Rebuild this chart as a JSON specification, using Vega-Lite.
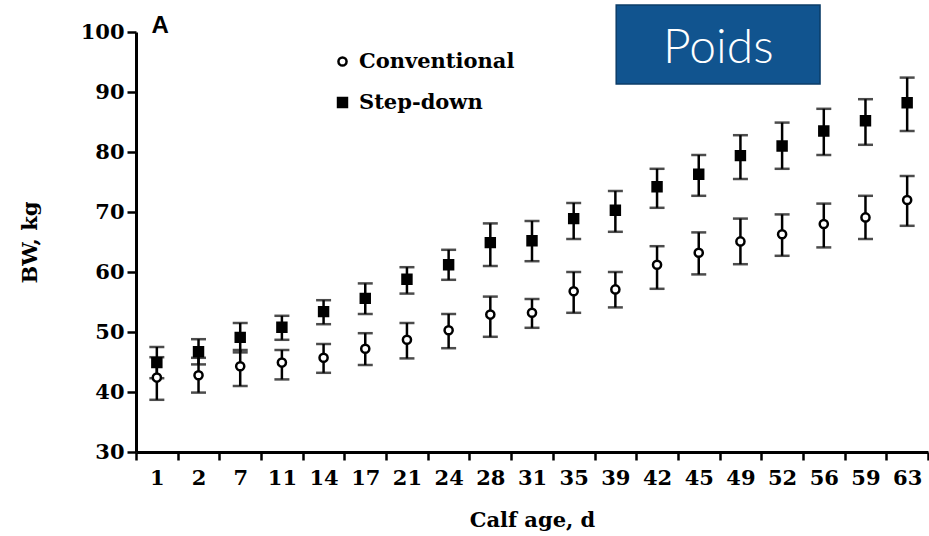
{
  "$schema": "https://vega.github.io/schema/vega-lite/v6.json",
  "width": 792,
  "height": 420,
  "autosize": {"type": "none"},
  "padding": {"left": 136, "top": 32, "right": 1, "bottom": 84},
  "background": "white",
  "config": {
    "view": {"stroke": null},
    "font": "DejaVu Serif",
    "axis": {
      "domainColor": "black",
      "domainWidth": 3,
      "tickColor": "black",
      "tickWidth": 2.5,
      "grid": false,
      "labelFont": "DejaVu Serif",
      "labelFontWeight": "bold",
      "labelFontSize": 21,
      "labelColor": "black",
      "titleFont": "DejaVu Serif",
      "titleFontWeight": "bold",
      "titleFontSize": 21,
      "titleColor": "black"
    }
  },
  "datasets": {
    "bw": [
      {"day": "1", "series": "Step-down", "value": 44.9, "lo": 42.3, "hi": 47.5},
      {"day": "2", "series": "Step-down", "value": 46.7, "lo": 44.6, "hi": 48.8},
      {"day": "7", "series": "Step-down", "value": 49.1, "lo": 46.6, "hi": 51.5},
      {"day": "11", "series": "Step-down", "value": 50.8, "lo": 48.7, "hi": 52.7},
      {"day": "14", "series": "Step-down", "value": 53.4, "lo": 51.3, "hi": 55.3},
      {"day": "17", "series": "Step-down", "value": 55.6, "lo": 53.0, "hi": 58.1},
      {"day": "21", "series": "Step-down", "value": 58.8, "lo": 56.4, "hi": 60.8},
      {"day": "24", "series": "Step-down", "value": 61.2, "lo": 58.7, "hi": 63.7},
      {"day": "28", "series": "Step-down", "value": 64.9, "lo": 61.0, "hi": 68.1},
      {"day": "31", "series": "Step-down", "value": 65.2, "lo": 61.8, "hi": 68.5},
      {"day": "35", "series": "Step-down", "value": 68.9, "lo": 65.5, "hi": 71.5},
      {"day": "39", "series": "Step-down", "value": 70.3, "lo": 66.7, "hi": 73.5},
      {"day": "42", "series": "Step-down", "value": 74.2, "lo": 70.7, "hi": 77.2},
      {"day": "45", "series": "Step-down", "value": 76.3, "lo": 72.7, "hi": 79.5},
      {"day": "49", "series": "Step-down", "value": 79.4, "lo": 75.5, "hi": 82.8},
      {"day": "52", "series": "Step-down", "value": 81.0, "lo": 77.2, "hi": 84.9},
      {"day": "56", "series": "Step-down", "value": 83.5, "lo": 79.5, "hi": 87.2},
      {"day": "59", "series": "Step-down", "value": 85.2, "lo": 81.2, "hi": 88.8},
      {"day": "63", "series": "Step-down", "value": 88.2, "lo": 83.5, "hi": 92.4},
      {"day": "1", "series": "Conventional", "value": 42.4, "lo": 38.7, "hi": 45.8},
      {"day": "2", "series": "Conventional", "value": 42.8, "lo": 39.9, "hi": 45.7},
      {"day": "7", "series": "Conventional", "value": 44.3, "lo": 41.0, "hi": 47.0},
      {"day": "11", "series": "Conventional", "value": 44.9, "lo": 42.1, "hi": 47.0},
      {"day": "14", "series": "Conventional", "value": 45.7, "lo": 43.2, "hi": 48.0},
      {"day": "17", "series": "Conventional", "value": 47.2, "lo": 44.5, "hi": 49.8},
      {"day": "21", "series": "Conventional", "value": 48.7, "lo": 45.6, "hi": 51.5},
      {"day": "24", "series": "Conventional", "value": 50.3, "lo": 47.3, "hi": 53.0},
      {"day": "28", "series": "Conventional", "value": 52.9, "lo": 49.2, "hi": 55.9},
      {"day": "31", "series": "Conventional", "value": 53.2, "lo": 50.7, "hi": 55.5},
      {"day": "35", "series": "Conventional", "value": 56.8, "lo": 53.2, "hi": 60.0},
      {"day": "39", "series": "Conventional", "value": 57.1, "lo": 54.1, "hi": 60.0},
      {"day": "42", "series": "Conventional", "value": 61.2, "lo": 57.2, "hi": 64.3},
      {"day": "45", "series": "Conventional", "value": 63.2, "lo": 59.6, "hi": 66.6},
      {"day": "49", "series": "Conventional", "value": 65.1, "lo": 61.3, "hi": 68.9},
      {"day": "52", "series": "Conventional", "value": 66.3, "lo": 62.7, "hi": 69.6},
      {"day": "56", "series": "Conventional", "value": 68.0, "lo": 64.1, "hi": 71.4},
      {"day": "59", "series": "Conventional", "value": 69.1, "lo": 65.5, "hi": 72.7},
      {"day": "63", "series": "Conventional", "value": 72.0, "lo": 67.7, "hi": 76.0}
    ],
    "notes": [
      {"kind": "box", "label": "Poids", "x1": 11.52, "x2": 16.41, "y1": 104.5, "y2": 91.33, "tx": 13.97, "ty": 94.8},
      {"kind": "panel", "label": "A", "tx": 0.58, "ty": 100}
    ]
  },
  "layer": [
    {
      "data": {"name": "bw"},
      "encoding": {
        "x": {
          "field": "day",
          "type": "ordinal",
          "sort": null,
          "scale": {"paddingInner": 0, "paddingOuter": 0},
          "axis": {
            "title": "Calf age, d",
            "labelAngle": 0,
            "tickBand": "extent",
            "tickSize": 8,
            "labelPadding": 7,
            "titlePadding": 21
          }
        }
      },
      "layer": [
        {
          "mark": {"type": "rule", "color": "black", "strokeWidth": 2.5},
          "encoding": {
            "y": {
              "field": "lo",
              "type": "quantitative",
              "title": "BW, kg",
              "scale": {"domain": [30, 100], "nice": false, "zero": false},
              "axis": {"values": [30, 40, 50, 60, 70, 80, 90, 100], "tickSize": 9, "labelPadding": 3, "titlePadding": 40}
            },
            "y2": {"field": "hi"}
          }
        },
        {
          "mark": {"type": "tick", "color": "black", "thickness": 2.5, "size": 15, "orient": "horizontal"},
          "encoding": {"y": {"field": "lo", "type": "quantitative", "title": "BW, kg"}}
        },
        {
          "mark": {"type": "tick", "color": "black", "thickness": 2.5, "size": 15, "orient": "horizontal"},
          "encoding": {"y": {"field": "hi", "type": "quantitative", "title": "BW, kg"}}
        },
        {
          "mark": {"type": "point", "filled": true, "stroke": "black", "strokeWidth": 2.5, "opacity": 1},
          "encoding": {
            "y": {"field": "value", "type": "quantitative", "title": "BW, kg"},
            "shape": {
              "field": "series",
              "type": "nominal",
              "scale": {"domain": ["Conventional", "Step-down"], "range": ["circle", "square"]},
              "legend": {
                "orient": "none",
                "legendX": 196,
                "legendY": 19,
                "title": null,
                "padding": 0,
                "labelFont": "DejaVu Serif",
                "labelFontWeight": "bold",
                "labelFontSize": 21,
                "labelColor": "black",
                "labelOffset": 6,
                "rowPadding": 19,
                "symbolStrokeColor": "black",
                "symbolStrokeWidth": 2.5,
                "symbolOpacity": 1
              }
            },
            "fill": {
              "field": "series",
              "type": "nominal",
              "scale": {"domain": ["Conventional", "Step-down"], "range": ["white", "black"]}
            },
            "size": {
              "field": "series",
              "type": "nominal",
              "scale": {"domain": ["Conventional", "Step-down"], "range": [66, 80]}
            }
          }
        }
      ]
    },
    {
      "data": {"name": "notes"},
      "layer": [
        {
          "transform": [{"filter": "datum.kind === 'box'"}],
          "mark": {"type": "rect", "fill": "#11548f", "stroke": "#0b3c68", "strokeWidth": 1.5},
          "encoding": {
            "x": {"field": "x1", "type": "quantitative", "scale": {"domain": [0, 19], "nice": false, "zero": true}, "axis": null},
            "x2": {"field": "x2"},
            "y": {"field": "y1", "type": "quantitative", "title": "BW, kg"},
            "y2": {"field": "y2"}
          }
        },
        {
          "transform": [{"filter": "datum.kind === 'box'"}],
          "mark": {"type": "text", "color": "white", "font": "Lato", "fontSize": 48, "fontWeight": 300, "align": "center", "baseline": "alphabetic"},
          "encoding": {
            "x": {"field": "tx", "type": "quantitative", "axis": null},
            "y": {"field": "ty", "type": "quantitative", "title": "BW, kg"},
            "text": {"field": "label"}
          }
        },
        {
          "transform": [{"filter": "datum.kind === 'panel'"}],
          "mark": {"type": "text", "color": "black", "font": "Liberation Sans", "fontSize": 24, "fontWeight": "bold", "align": "center", "baseline": "alphabetic", "dy": 1},
          "encoding": {
            "x": {"field": "tx", "type": "quantitative", "axis": null},
            "y": {"field": "ty", "type": "quantitative", "title": "BW, kg"},
            "text": {"field": "label"}
          }
        }
      ]
    }
  ],
  "resolve": {"scale": {"x": "independent"}}
}
